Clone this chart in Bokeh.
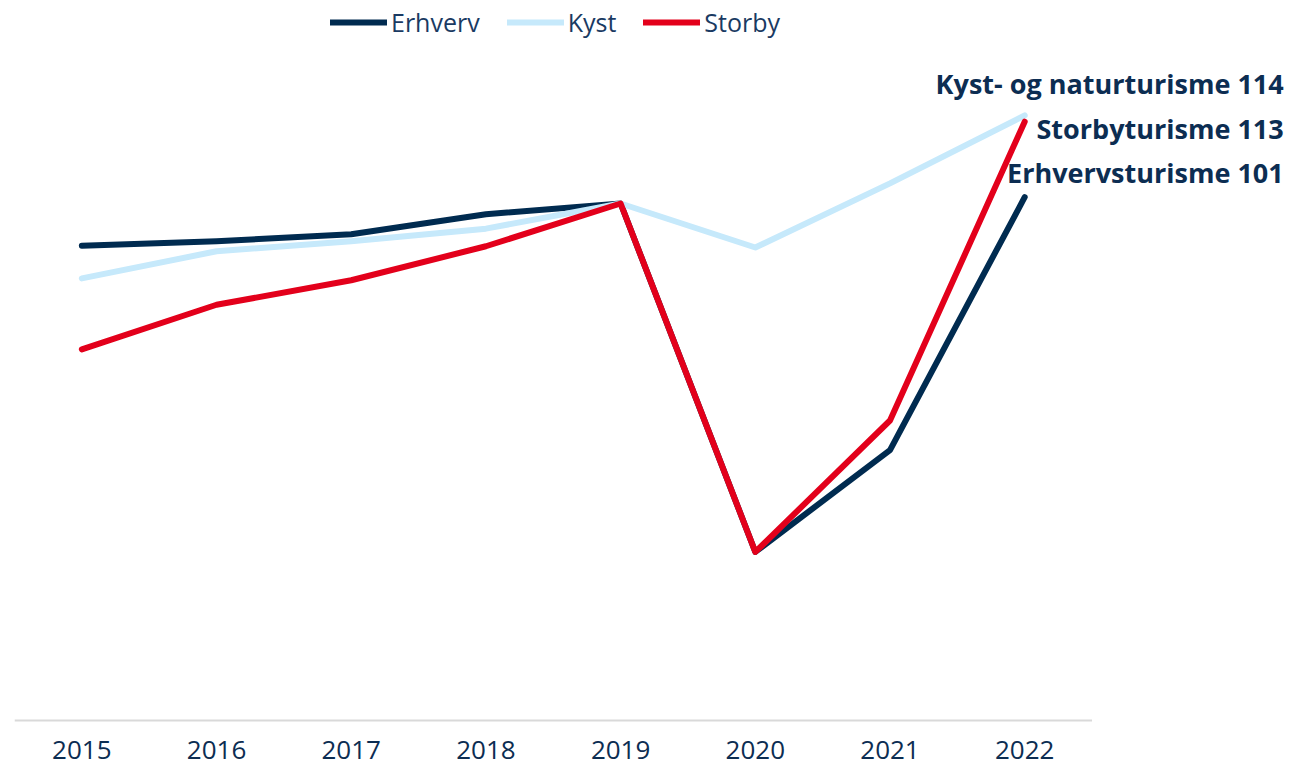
from bokeh.plotting import figure
from bokeh.models import Label, FixedTicker, Legend, LegendItem
from bokeh.embed import file_html
from bokeh.resources import INLINE

years = [2015, 2016, 2017, 2018, 2019, 2020, 2021, 2022]
erhverv = [93.3, 94.0, 95.1, 98.3, 100, 44.6, 60.8, 101]
kyst = [88.1, 92.4, 94.0, 96.0, 100, 93.0, 103.2, 114]
storby = [76.8, 83.9, 87.8, 93.2, 100, 44.6, 65.5, 113]

series_names = ["Erhverv", "Kyst", "Storby"]
label_names = ["Erhvervsturisme", "Kyst- og naturturisme", "Storbyturisme"]
colors = ["#002b50", "#c6e9fb", "#e3001b"]

FONT = "Open Sans"
NAVY = "#0c2d52"

x_start, x_axis_end, x_end = 2014.5, 2022.5, 2023.966
y_start, y_end = 17.65, 132.27

p = figure(width=1289, height=767, output_backend="svg", toolbar_location=None,
           x_range=(x_start, x_end), y_range=(y_start, y_end),
           y_axis_location=None, min_border_left=14, min_border_right=0,
           min_border_top=0, min_border_bottom=46, outline_line_color=None)
p.grid.visible = False

# baseline (axis line only under the year bands)
p.segment(x0=[x_start], x1=[x_axis_end], y0=[y_start], y1=[y_start],
          line_color="#d9d9d9", line_width=4)

renderers = []
for vals, col in zip([erhverv, kyst, storby], colors):
    r = p.line(years, vals, line_color=col, line_width=6, line_cap="round", line_join="round")
    renderers.append(r)

legend = Legend(items=[LegendItem(label=n, renderers=[r]) for n, r in zip(series_names, renderers)],
                orientation="horizontal", location=(316, 682),
                label_text_font=FONT, label_text_font_size="25px", label_text_color="#1a3a62",
                glyph_width=57, glyph_height=24, label_standoff=4, spacing=27,
                padding=0, margin=0, border_line_color=None, background_fill_alpha=0)
p.add_layout(legend)

ax = p.xaxis[0]
ax.ticker = FixedTicker(ticks=years)
ax.major_tick_line_color = None
ax.minor_tick_line_color = None
ax.axis_line_color = None
ax.major_label_text_font = FONT
ax.major_label_text_font_size = "26px"
ax.major_label_text_color = NAVY
ax.major_label_standoff = 13

offsets = [25, 32, -7]
for name, vals, off in zip(label_names, [erhverv, kyst, storby], offsets):
    p.add_layout(Label(x=years[-1], y=vals[-1], x_offset=259, y_offset=off,
                       text=f"{name} {vals[-1]:.0f}", text_align="right", text_baseline="middle",
                       text_font=FONT, text_font_style="bold", text_font_size="27px",
                       text_color=NAVY))

open("out.html", "w").write(file_html(p, INLINE))
